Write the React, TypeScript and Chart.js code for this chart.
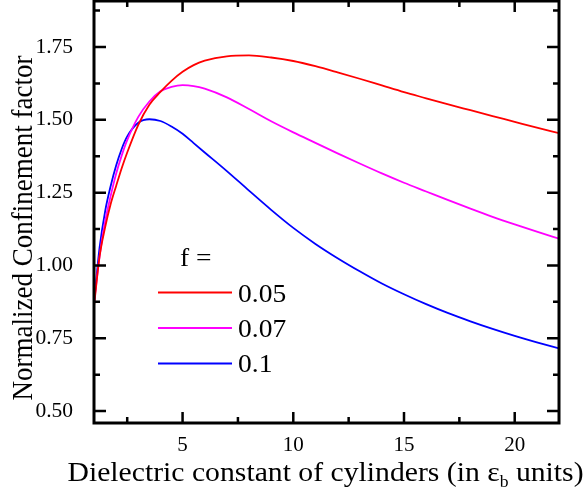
import React, { useEffect, useRef } from "react";
import { Chart, registerables } from "chart.js";

Chart.register(...registerables);

// Dielectric constant of cylinders (in eps_b units)
const eps = [1, 1.25, 1.5, 1.75, 2, 2.25, 2.5, 3, 3.5, 4, 4.5, 5, 5.5, 6, 7, 8, 9, 10, 11, 12, 13, 14, 15, 16, 17, 18, 19, 20, 21, 22];

// Normalized confinement factor for f = 0.05, 0.07, 0.1
const f005 = [0.86, 1.03, 1.13, 1.21, 1.273, 1.334, 1.388, 1.483, 1.552, 1.596, 1.634, 1.665, 1.688, 1.703, 1.718, 1.721, 1.714, 1.702, 1.684, 1.663, 1.641, 1.618, 1.595, 1.574, 1.553, 1.533, 1.513, 1.493, 1.473, 1.454];
const f007 = [0.87, 1.03, 1.15, 1.238, 1.315, 1.377, 1.43, 1.51, 1.563, 1.598, 1.613, 1.619, 1.616, 1.607, 1.577, 1.537, 1.495, 1.457, 1.421, 1.385, 1.35, 1.316, 1.284, 1.254, 1.224, 1.195, 1.167, 1.141, 1.116, 1.092];
const f01 = [0.87, 1.06, 1.185, 1.272, 1.343, 1.4, 1.443, 1.49, 1.502, 1.496, 1.477, 1.452, 1.42, 1.388, 1.324, 1.257, 1.191, 1.129, 1.074, 1.025, 0.98, 0.938, 0.901, 0.867, 0.836, 0.808, 0.782, 0.758, 0.736, 0.715];

const seriesValues = [f005, f007, f01];
const seriesLabels = ["0.05", "0.07", "0.1"];
const seriesColors = ["#ff0000", "#ff00ff", "#0000ff"];

const xMajor = [5, 10, 15, 20];
const xMinor = [2.5, 7.5, 12.5, 17.5];
const yMajor = [0.5, 0.75, 1.0, 1.25, 1.5, 1.75];
const yMinor = [0.625, 0.875, 1.125, 1.375, 1.625, 1.875];

const xTitleMain = "Dielectric constant of cylinders (in \u03b5";
const xTitleSub = "b";
const xTitleEnd = " units)";
const yTitle = "Normalized Confinement factor";
const legendHeader = "f =";

const FONT = '"Liberation Serif", "Times New Roman", serif';
const STRETCH = 1.1;

const framePlugin = {
  id: "framePlugin",
  afterDraw(chart: any) {
    const ctx = chart.ctx as CanvasRenderingContext2D;
    const { left, right, top, bottom } = chart.chartArea;
    const xs = chart.scales.x;
    const ys = chart.scales.y;
    ctx.save();
    ctx.strokeStyle = "#000";
    ctx.lineWidth = 3;
    ctx.strokeRect(left, top, right - left, bottom - top);

    ctx.lineWidth = 2.5;
    const vTick = (v: number, len: number) => {
      const px = xs.getPixelForValue(v);
      ctx.beginPath();
      ctx.moveTo(px, bottom);
      ctx.lineTo(px, bottom - len);
      ctx.moveTo(px, top);
      ctx.lineTo(px, top + len);
      ctx.stroke();
    };
    const hTick = (v: number, len: number) => {
      const py = ys.getPixelForValue(v);
      ctx.beginPath();
      ctx.moveTo(left, py);
      ctx.lineTo(left + len, py);
      ctx.moveTo(right, py);
      ctx.lineTo(right - len, py);
      ctx.stroke();
    };
    xMajor.forEach((v) => vTick(v, 11));
    xMinor.forEach((v) => vTick(v, 6));
    yMajor.forEach((v) => hTick(v, 12));
    yMinor.forEach((v) => hTick(v, 6));

    ctx.fillStyle = "#000";
    ctx.textBaseline = "alphabetic";

    const drawS = (t: string, x: number, y: number, font: string) => {
      ctx.save();
      ctx.font = font;
      ctx.translate(x, y);
      ctx.scale(STRETCH, 1);
      ctx.textAlign = "left";
      ctx.fillText(t, 0, 0);
      ctx.restore();
    };

    // x title
    ctx.font = `27px ${FONT}`;
    const w1 = ctx.measureText(xTitleMain).width * STRETCH;
    ctx.font = `16px ${FONT}`;
    const w2 = ctx.measureText(xTitleSub).width * STRETCH;
    ctx.font = `27px ${FONT}`;
    const w3 = ctx.measureText(xTitleEnd).width * STRETCH;
    const total = w1 + w2 + w3;
    const xStart = (left + right) / 2 - total / 2 - 1;
    const base = 481;
    drawS(xTitleMain, xStart, base, `27px ${FONT}`);
    drawS(xTitleSub, xStart + w1, base + 6, `16px ${FONT}`);
    drawS(xTitleEnd, xStart + w1 + w2, base, `27px ${FONT}`);

    // y title
    ctx.save();
    ctx.font = `27px ${FONT}`;
    ctx.translate(32, 228);
    ctx.rotate(-Math.PI / 2);
    ctx.scale(1, STRETCH);
    ctx.textAlign = "center";
    ctx.fillText(yTitle, 0, 0);
    ctx.restore();

    // legend
    drawS(legendHeader, 180, 266, `25px ${FONT}`);
    seriesLabels.forEach((lab, i) => {
      const ly = 292.5 + i * 35.5;
      ctx.strokeStyle = seriesColors[i];
      ctx.lineWidth = 2;
      ctx.beginPath();
      ctx.moveTo(158, ly);
      ctx.lineTo(232, ly);
      ctx.stroke();
      drawS(lab, 238, 301.7 + i * 35, `25px ${FONT}`);
    });
    ctx.restore();
  },
};

export default function App() {
  const ref = useRef<HTMLCanvasElement | null>(null);
  useEffect(() => {
    if (!ref.current) return;
    const chart = new Chart(ref.current, {
      type: "line",
      data: {
        datasets: seriesValues.map((vals, i) => ({
          label: seriesLabels[i],
          data: eps.map((x, j) => ({ x, y: vals[j] })),
          borderColor: seriesColors[i],
          backgroundColor: seriesColors[i],
          borderWidth: 1.8,
          pointRadius: 0,
          cubicInterpolationMode: "monotone" as const,
          fill: false,
        })),
      },
      options: {
        animation: false,
        responsive: true,
        maintainAspectRatio: false,
        layout: { padding: { top: 1, right: 29, left: 0, bottom: 0 }, autoPadding: false } as any,
        plugins: { legend: { display: false }, tooltip: { enabled: false } },
        scales: {
          x: {
            type: "linear",
            min: 1,
            max: 22,
            grid: { display: false },
            border: { display: false },
            afterBuildTicks: (s: any) => {
              s.ticks = xMajor.map((v) => ({ value: v }));
            },
            afterFit: (s: any) => {
              s.height = 69;
              s.paddingLeft = 0;
              s.paddingRight = 0;
              s.paddingTop = 0;
              s.paddingBottom = 0;
            },
            ticks: {
              autoSkip: false,
              maxRotation: 0,
              padding: 2,
              color: "#000",
              font: { family: FONT, size: 21 },
              callback: (v: any) => String(v),
            },
          },
          y: {
            type: "linear",
            min: 0.459,
            max: 1.908,
            grid: { display: false },
            border: { display: false },
            afterBuildTicks: (s: any) => {
              s.ticks = yMajor.map((v) => ({ value: v }));
            },
            afterFit: (s: any) => {
              s.width = 94;
              s.paddingLeft = 0;
              s.paddingRight = 0;
              s.paddingTop = 0;
              s.paddingBottom = 0;
            },
            ticks: {
              autoSkip: false,
              padding: 13,
              color: "#000",
              font: { family: FONT, size: 21.5 },
              callback: (v: any) => Number(v).toFixed(2),
            },
          },
        },
      },
      plugins: [framePlugin],
    });
    return () => chart.destroy();
  }, []);
  return (
    <div style={{ position: "fixed", left: 0, top: 0, width: 588, height: 492, background: "#fff" }}>
      <canvas ref={ref} />
    </div>
  );
}
